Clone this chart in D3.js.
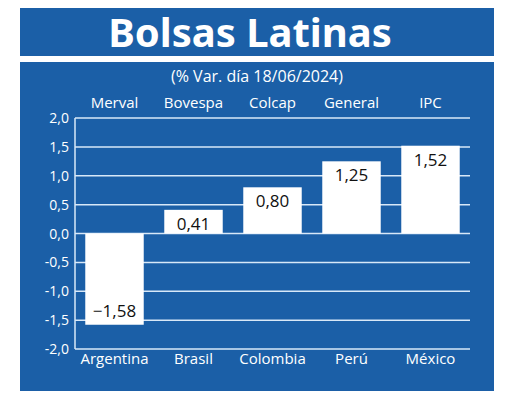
<!DOCTYPE html>
<html><head><meta charset="utf-8">
<script src="https://cdn.jsdelivr.net/npm/d3@7"></script>
<style>body{margin:0;background:#fff}</style>
</head><body>
<div class="chart"></div>
<script>
var countries = ["Argentina","Brasil","Colombia","Perú","México"];
var indices = ["Merval","Bovespa","Colcap","General","IPC"];
var values = [-1.58, 0.41, 0.80, 1.25, 1.52];
var ticks = [-2,-1.5,-1,-0.5,0,0.5,1,1.5,2];

var blue = "#1b5fa7";
var font = "'Open Sans', sans-serif";
var fmt = function(v){ return d3.format(".2f")(v).replace(".", ","); };

var svg = d3.select(".chart").append("svg").attr("width",520).attr("height",419);

// title band and panel
svg.append("rect").attr("x",20).attr("y",8).attr("width",474).attr("height",48).attr("fill",blue);
svg.append("text").attr("x",250).attr("y",47).attr("text-anchor","middle")
  .attr("fill","#fff").attr("font-family","'Noto Sans', sans-serif").attr("font-weight","bold")
  .attr("font-size",40).text("Bolsas Latinas");
svg.append("rect").attr("x",20).attr("y",62).attr("width",474).attr("height",329).attr("fill",blue);
svg.append("text").attr("x",257).attr("y",82).attr("text-anchor","middle")
  .attr("fill","#fff").attr("font-family",font).attr("font-size",16).text("(% Var. día 18/06/2024)");

var x = d3.scaleBand().domain(countries).range([75,470]).paddingInner(0.26).paddingOuter(0.13);
var y = d3.scaleLinear().domain([-2,2]).range([349,118]);

// gridlines
svg.append("g").selectAll("line").data(ticks).enter().append("line")
  .attr("x1",75).attr("x2",470).attr("y1",function(d){return y(d);}).attr("y2",function(d){return y(d);})
  .attr("stroke","#d8e8f8").attr("stroke-width",1.5);
svg.append("line").attr("x1",75).attr("x2",75).attr("y1",y(2)).attr("y2",y(-2))
  .attr("stroke","#d8e8f8").attr("stroke-width",1.5);

// y tick labels
svg.append("g").selectAll("text").data(ticks).enter().append("text")
  .attr("x",69).attr("y",function(d){return y(d)+5;}).attr("text-anchor","end")
  .attr("fill","#fff").attr("font-family",font).attr("font-size",14)
  .text(function(d){return d3.format(".1f")(d).replace(".",",").replace("−","-");});

// bars
svg.append("g").selectAll("rect").data(values).enter().append("rect")
  .attr("x",function(d,i){return x(countries[i]);})
  .attr("width",x.bandwidth())
  .attr("y",function(d){return y(Math.max(0,d));})
  .attr("height",function(d){return Math.abs(y(d)-y(0));})
  .attr("fill","#fff");

// value labels
svg.append("g").selectAll("text").data(values).enter().append("text")
  .attr("x",function(d,i){return x(countries[i])+x.bandwidth()/2;})
  .attr("y",function(d){return d>=0 ? y(d)+20 : y(d)-8;})
  .attr("text-anchor","middle").attr("fill","#111").attr("font-family",font).attr("font-size",17)
  .text(function(d){return fmt(d);});

// category labels
svg.append("g").selectAll("text").data(indices).enter().append("text")
  .attr("x",function(d,i){return x(countries[i])+x.bandwidth()/2;}).attr("y",108)
  .attr("text-anchor","middle").attr("fill","#fff").attr("font-family",font).attr("font-size",15)
  .text(function(d){return d;});
svg.append("g").selectAll("text").data(countries).enter().append("text")
  .attr("x",function(d){return x(d)+x.bandwidth()/2;}).attr("y",364)
  .attr("text-anchor","middle").attr("fill","#fff").attr("font-family",font).attr("font-size",15)
  .text(function(d){return d;});
</script>
</body></html>
